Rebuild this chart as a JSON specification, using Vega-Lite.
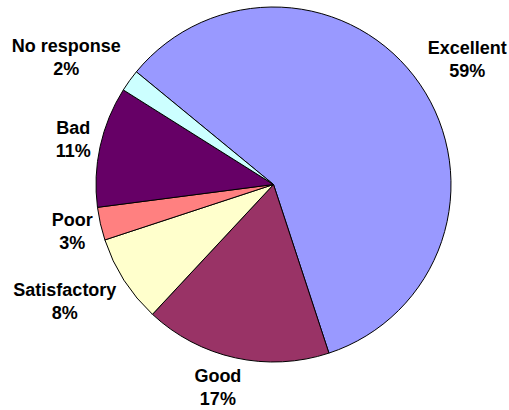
{
  "$schema": "https://vega.github.io/schema/vega-lite/v6.json",
  "width": 355,
  "height": 355,
  "autosize": "none",
  "padding": {"left": 96, "top": 7, "right": 58, "bottom": 48},
  "background": "white",
  "view": {"stroke": null},
  "config": {"text": {"font": "Liberation Sans", "fontWeight": "bold", "fontSize": 18, "lineBreak": "\n", "lineHeight": 23, "align": "center", "baseline": "middle", "color": "black", "dy": -12}},
  "data": {
    "values": [
      {"idx": 1, "category": "Excellent", "pct": 59, "label": "Excellent\n59%"},
      {"idx": 2, "category": "Good", "pct": 17, "label": "Good\n17%"},
      {"idx": 3, "category": "Satisfactory", "pct": 8, "label": "Satisfactory\n8%"},
      {"idx": 4, "category": "Poor", "pct": 3, "label": "Poor\n3%"},
      {"idx": 5, "category": "Bad", "pct": 11, "label": "Bad\n11%"},
      {"idx": 6, "category": "No response", "pct": 2, "label": "No response\n2%"}
    ]
  },
  "encoding": {
    "theta": {"field": "pct", "type": "quantitative", "stack": true, "scale": {"range": [-0.8831, 5.4001]}},
    "order": {"field": "idx", "type": "quantitative"}
  },
  "layer": [
    {
      "mark": {"type": "arc", "outerRadius": 177.5, "stroke": "black", "strokeWidth": 1},
      "encoding": {
        "color": {
          "field": "category",
          "type": "nominal",
          "scale": {
            "domain": ["Excellent", "Good", "Satisfactory", "Poor", "Bad", "No response"],
            "range": ["#9999FF", "#993366", "#FFFFCC", "#FF8080", "#660066", "#CCFFFF"]
          },
          "legend": null
        }
      }
    },
    {
      "mark": {"type": "text", "radius": 230, "thetaOffset": 0.031},
      "encoding": {"text": {"condition": {"test": "datum.category === 'Excellent'", "field": "label"}, "value": ""}}
    },
    {
      "mark": {"type": "text", "radius": 212, "thetaOffset": 0.049},
      "encoding": {"text": {"condition": {"test": "datum.category === 'Good'", "field": "label"}, "value": ""}}
    },
    {
      "mark": {"type": "text", "radius": 240, "thetaOffset": 0.052},
      "encoding": {"text": {"condition": {"test": "datum.category === 'Satisfactory'", "field": "label"}, "value": ""}}
    },
    {
      "mark": {"type": "text", "radius": 207, "thetaOffset": -0.014},
      "encoding": {"text": {"condition": {"test": "datum.category === 'Poor'", "field": "label"}, "value": ""}}
    },
    {
      "mark": {"type": "text", "radius": 205, "thetaOffset": -0.002},
      "encoding": {"text": {"condition": {"test": "datum.category === 'Bad'", "field": "label"}, "value": ""}}
    },
    {
      "mark": {"type": "text", "radius": 242, "thetaOffset": -0.082},
      "encoding": {"text": {"condition": {"test": "datum.category === 'No response'", "field": "label"}, "value": ""}}
    }
  ]
}
